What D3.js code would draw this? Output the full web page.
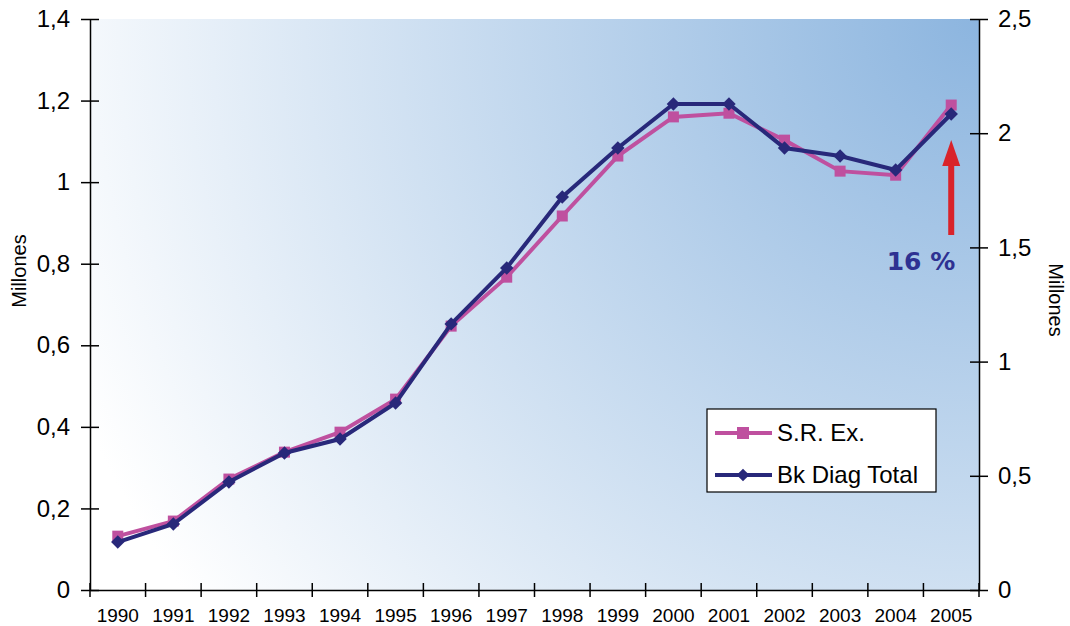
<!DOCTYPE html>
<html>
<head>
<meta charset="utf-8">
<script src="https://cdn.jsdelivr.net/npm/d3@7"></script>
<style>
  body { margin: 0; background: #fff; }
  svg { display: block; font-family: "Liberation Sans", Arial, sans-serif; }
</style>
</head>
<body>
<svg id="chart" width="1070" height="626"></svg>
<script>
// data
let years = ["1990","1991","1992","1993","1994","1995","1996","1997","1998","1999","2000","2001","2002","2003","2004","2005"];
let srEx = [0.132, 0.169, 0.272, 0.338, 0.387, 0.468, 0.647, 0.767, 0.917, 1.064, 1.160, 1.169, 1.103, 1.027, 1.017, 1.189];   // left axis
let bkDiag = [0.210, 0.289, 0.473, 0.600, 0.661, 0.819, 1.165, 1.410, 1.721, 1.935, 2.128, 2.128, 1.935, 1.900, 1.839, 2.084]; // right axis
let leftTicks = [0, 0.2, 0.4, 0.6, 0.8, 1, 1.2, 1.4];
let rightTicks = [0, 0.5, 1, 1.5, 2, 2.5];

let svg = d3.select("#chart"),
    margin = { top: 19, right: 91, bottom: 36, left: 90 },
    width = 1070 - margin.left - margin.right,
    height = 626 - margin.top - margin.bottom;

let locale = d3.formatLocale({ decimal: ",", thousands: ".", grouping: [3], currency: ["", "€"] });
let fmt = locale.format("~g");

let x = d3.scaleBand().domain(years).range([0, width]).padding(0);
let yL = d3.scaleLinear().domain([0, 1.4]).range([height, 0]);
let yR = d3.scaleLinear().domain([0, 2.5]).range([height, 0]);

// background, whitish at bottom left going to blue at top right
let defs = svg.append("defs");
let grad = defs.append("radialGradient")
    .attr("id", "bg")
    .attr("gradientUnits", "userSpaceOnUse")
    .attr("cx", margin.left + width).attr("cy", margin.top)
    .attr("r", 980);
grad.append("stop").attr("offset", 0).attr("stop-color", "#8cb5df");
grad.append("stop").attr("offset", 1).attr("stop-color", "#ffffff");

let g = svg.append("g").attr("transform", `translate(${margin.left},${margin.top})`);

g.append("rect")
    .attr("x", margin.left).attr("y", margin.top)
    .attr("transform", `translate(${-margin.left},${-margin.top})`)
    .attr("width", width).attr("height", height)
    .attr("fill", "url(#bg)");

// axes
let leftAxis = g.append("g")
    .call(d3.axisLeft(yL).tickValues(leftTicks).tickFormat(fmt).tickSize(0).tickPadding(20));
let rightAxis = g.append("g").attr("transform", `translate(${width},0)`)
    .call(d3.axisRight(yR).tickValues(rightTicks).tickFormat(fmt).tickSize(0).tickPadding(19));
let bottomAxis = g.append("g").attr("transform", `translate(0,${height})`)
    .call(d3.axisBottom(x).tickSize(0).tickPadding(19));

[leftAxis, rightAxis].forEach(function(a) {
    a.selectAll(".tick line").attr("x1", -9).attr("x2", 9).attr("stroke", "#000").attr("stroke-width", 1.5);
    a.selectAll(".tick text").attr("font-size", 24).attr("fill", "#000").attr("font-family", "Liberation Sans, Arial, sans-serif");
    a.select(".domain").attr("stroke", "#000").attr("stroke-width", 1.5);
});
bottomAxis.selectAll(".tick text").attr("font-size", 19).attr("fill", "#000").attr("font-family", "Liberation Sans, Arial, sans-serif");
bottomAxis.select(".domain").attr("stroke", "#000").attr("stroke-width", 1.5);

// ticks between the years
let edges = years.map(d => x(d)).concat([width]);
bottomAxis.selectAll(".edge")
    .data(edges)
    .enter().append("line")
    .attr("class", "edge")
    .attr("x1", d => d).attr("x2", d => d)
    .attr("y1", -7).attr("y2", 7)
    .attr("stroke", "#000").attr("stroke-width", 1.5);

// axis titles
svg.append("text")
    .attr("transform", "translate(26,271) rotate(-90)")
    .attr("text-anchor", "middle")
    .attr("font-size", 20)
    .text("Millones");
svg.append("text")
    .attr("transform", "translate(1049,300) rotate(90)")
    .attr("text-anchor", "middle")
    .attr("font-size", 20)
    .text("Millones");

// lines
let cx = d => x(d) + x.bandwidth() / 2;
let pink = "#bf509f", navy = "#28287a";

let lineL = d3.line().x((d, i) => cx(years[i])).y(d => yL(d));
let lineR = d3.line().x((d, i) => cx(years[i])).y(d => yR(d));

g.append("path").datum(srEx)
    .attr("d", lineL).attr("fill", "none")
    .attr("stroke", pink).attr("stroke-width", 4);
g.selectAll(".sq").data(srEx).enter().append("rect")
    .attr("class", "sq")
    .attr("x", (d, i) => cx(years[i]) - 5.5).attr("y", d => yL(d) - 5.5)
    .attr("width", 11).attr("height", 11)
    .attr("fill", pink);

let diamond = d3.symbol().type(d3.symbolDiamond2).size(150);
g.append("path").datum(bkDiag)
    .attr("d", lineR).attr("fill", "none")
    .attr("stroke", navy).attr("stroke-width", 4);
g.selectAll(".dm").data(bkDiag).enter().append("path")
    .attr("class", "dm")
    .attr("transform", (d, i) => `translate(${cx(years[i])},${yR(d)}) rotate(45)`)
    .attr("d", d3.symbol().type(d3.symbolSquare).size(90))
    .attr("fill", navy);

// red arrow and 16 % note
let ax = cx("2005");
g.append("line")
    .attr("x1", ax).attr("x2", ax)
    .attr("y1", 235 - margin.top).attr("y2", 162 - margin.top)
    .attr("stroke", "#d9232a").attr("stroke-width", 6);
g.append("path")
    .attr("d", `M${ax},${140 - margin.top} L${ax + 9},${166 - margin.top} L${ax - 9},${166 - margin.top} Z`)
    .attr("fill", "#d9232a");
svg.append("text")
    .attr("x", 921).attr("y", 270)
    .attr("text-anchor", "middle")
    .attr("font-family", "DejaVu Sans, Verdana, sans-serif")
    .attr("font-weight", "bold")
    .attr("font-size", 25)
    .attr("fill", "#2e3192")
    .text("16 %");

// legend
let legend = svg.append("g").attr("transform", "translate(707,409)");
legend.append("rect")
    .attr("width", 229).attr("height", 83)
    .attr("fill", "#fff").attr("stroke", "#000").attr("stroke-width", 1.2);
let items = [
    { name: "S.R. Ex.", color: pink, shape: "sq" },
    { name: "Bk Diag Total", color: navy, shape: "dm" }
];
items.forEach(function(it, i) {
    let yy = 24 + i * 42;
    let row = legend.append("g").attr("transform", `translate(0,${yy})`);
    row.append("line").attr("x1", 8).attr("x2", 65)
        .attr("stroke", it.color).attr("stroke-width", 4);
    if (it.shape == "sq") {
        row.append("rect").attr("x", 36 - 6).attr("y", -6).attr("width", 12).attr("height", 12).attr("fill", it.color);
    } else {
        row.append("path").attr("transform", "translate(36,0) rotate(45)")
            .attr("d", d3.symbol().type(d3.symbolSquare).size(80)).attr("fill", it.color);
    }
    row.append("text").attr("x", 70).attr("y", 8)
        .attr("font-size", 24).text(it.name);
});
</script>
</body>
</html>
